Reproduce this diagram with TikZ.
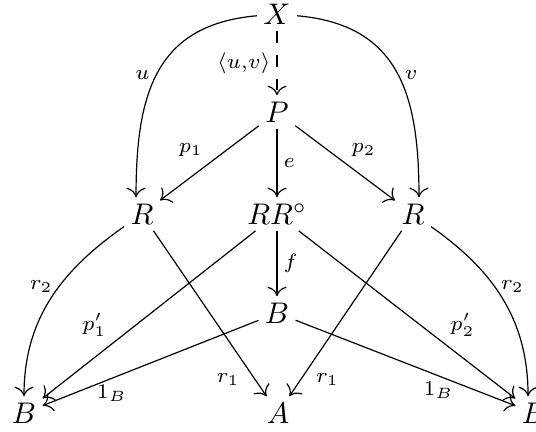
\documentclass[tikz,border=0pt]{standalone}
\usepackage{tikz}
\usetikzlibrary{arrows.meta}

\tikzset{
  obj/.style={inner sep=2pt},
  map/.style={-{To[length=3.2pt,width=6.4pt]}},
  lbl/.style={font=\scriptsize, inner sep=2pt},
}

\begin{document}
\begin{tikzpicture}[x=0.335pt, y=-0.335pt]
  \useasboundingbox (0,0) rectangle (536,431);

  % objects
  \node[obj] (X)   at (277,14)  {$X$};
  \node[obj] (P)   at (277,112) {$P$};
  \node[obj] (Rl)  at (142,214) {$R$};
  \node[obj] (RRo) at (277,214) {$RR^\circ$};
  \node[obj] (Rr)  at (413,214) {$R$};
  \node[obj] (Bm)  at (277,313) {$B$};
  \node[obj] (Bl)  at (24,413)  {$B$};
  \node[obj] (A)   at (278,413) {$A$};
  \node[obj] (Br)  at (534,413) {$B$};

  % maps out of X and P
  \draw[map, dash pattern=on 4pt off 4pt] (X) -- node[lbl, left] {$\langle u{,}v\rangle$} (P);
  \draw[map] (X.185) to[out=185, in=90, looseness=1.2] node[lbl, pos=0.52, left] {$u$} ([xshift=-2pt]Rl.north);
  \draw[map] (X.-5) to[out=-5, in=90, looseness=1.2] node[lbl, pos=0.52, right] {$v$} ([xshift=2pt]Rr.north);
  \draw[map] (P) -- node[lbl, above left] {$p_1$} (Rl);
  \draw[map] (P) -- node[lbl, right] {$e$} (RRo);
  \draw[map] (P) -- node[lbl, above right] {$p_2$} (Rr);

  % middle row
  \draw[map] (RRo) -- node[lbl, right] {$f$} (Bm);
  \draw[map] (RRo) -- node[lbl, pos=0.67, above left] {$p'_1$} (Bl);
  \draw[map] (RRo) -- node[lbl, pos=0.67, above right] {$p'_2$} (Br);
  \draw[map] (Rl) -- node[lbl, pos=0.82, below left] {$r_1$} (A);
  \draw[map] (Rr) -- node[lbl, pos=0.82, below right] {$r_1$} (A);
  \draw[map] (Rl) to[out=215, in=90] node[lbl, pos=0.42, left] {$r_2$} (Bl);
  \draw[map] (Rr) to[out=-35, in=90] node[lbl, pos=0.42, right] {$r_2$} ([xshift=-2pt]Br.north);

  % identities on B
  \draw[map] (Bm) -- node[lbl, pos=0.68, below] {$1_B$} (Bl);
  \draw[map] (Bm) -- node[lbl, pos=0.65, below] {$1_B$} (Br);
\end{tikzpicture}
\end{document}
